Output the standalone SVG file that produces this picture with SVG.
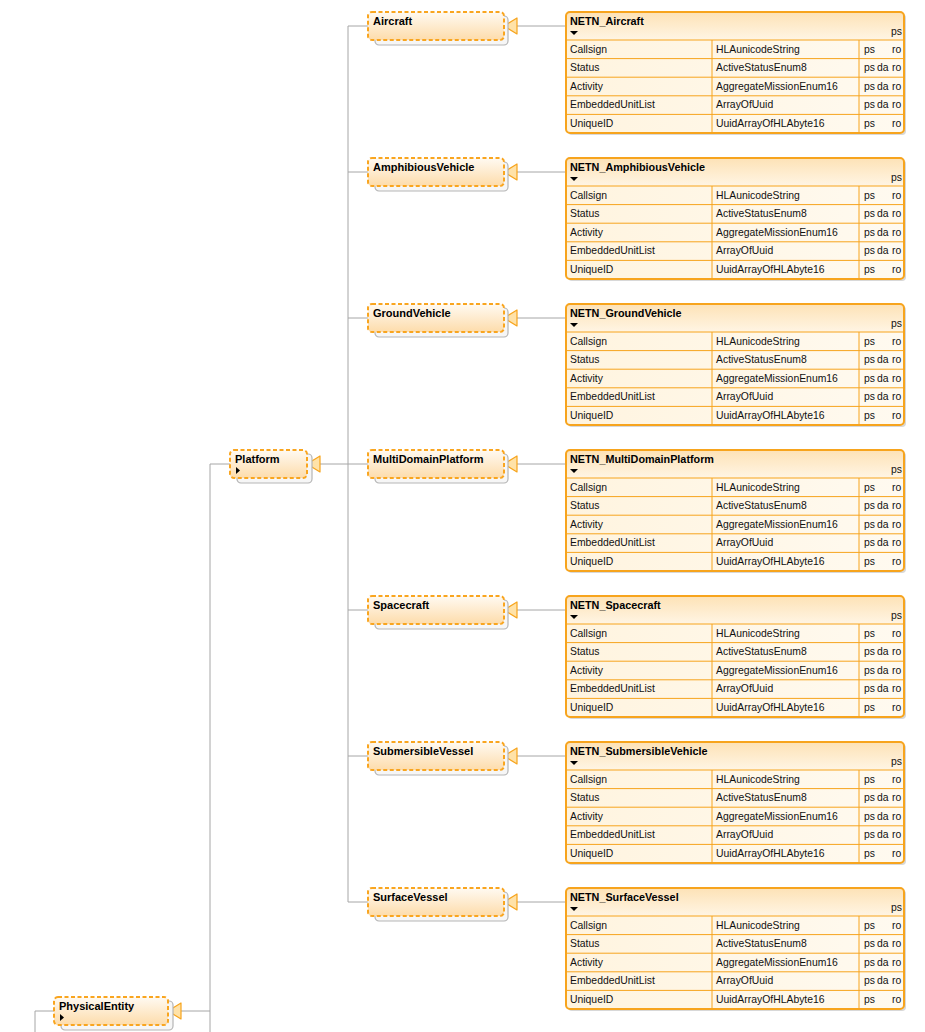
<svg xmlns="http://www.w3.org/2000/svg" xmlns:xlink="http://www.w3.org/1999/xlink" width="925" height="1032" viewBox="0 0 925 1032">
<defs>
<linearGradient id="gNode" x1="0" y1="0" x2="0" y2="1"><stop offset="0" stop-color="#fffaf2"/><stop offset="1" stop-color="#fddcab"/></linearGradient>
<linearGradient id="gHead" x1="0" y1="0" x2="0" y2="1"><stop offset="0" stop-color="#fde2b6"/><stop offset="1" stop-color="#fff5e4"/></linearGradient>
<linearGradient id="gRow" x1="0" y1="0" x2="1" y2="0"><stop offset="0" stop-color="#fff4df"/><stop offset="1" stop-color="#fffaf0"/></linearGradient>
<marker id="gen" markerUnits="userSpaceOnUse" viewBox="-1 -1 15 18" markerWidth="15" markerHeight="18" refX="13" refY="8" orient="auto"><path d="M0,0 L13,8 L0,16 Z" fill="#ffe2a8" stroke="#f7a41d" stroke-width="1.2" stroke-linejoin="round"/></marker>
<style>
.con{fill:none;stroke:#a6a6a6;stroke-width:1}
.shadow{fill:#f6f6f6;stroke:#b5b5b5;stroke-width:1.2}
.node{fill:url(#gNode);stroke:#f9a51f;stroke-width:2;stroke-dasharray:4 2.5}
.lbl{font-family:"Liberation Sans",Arial,sans-serif;font-weight:bold;font-size:11px;fill:#000}
.boxsh{fill:#d8d8d8}
.box{fill:url(#gRow)}
.head{fill:url(#gHead)}
.frame{fill:none;stroke:#f7a41d;stroke-width:2}
.grid{stroke:#f7a41d;stroke-width:1;fill:none}
.ttl{font-family:"Liberation Sans",Arial,sans-serif;font-weight:bold;font-size:10.8px;fill:#000}
.t{font-family:"Liberation Sans",Arial,sans-serif;font-size:10.4px;fill:#111}
.blk{fill:#000}
</style>
<g id="tbl">
<rect class="boxsh" x="2" y="2" width="338" height="121" rx="4"/>
<rect class="box" x="0" y="0" width="338" height="121" rx="4"/>
<path class="head" d="M0,28 V4 Q0,0 4,0 H334 Q338,0 338,4 V28 Z"/>
<path class="grid" d="M0,28 H338 M0,46.6 H338 M0,65.2 H338 M0,83.8 H338 M0,102.4 H338 M146,28 V121 M293,28 V121"/>
<rect class="frame" x="0" y="0" width="338" height="121" rx="4"/>
<polygon class="blk" points="4,19 12,19 8,23"/>
<text class="t" x="325" y="23">ps</text>
<text class="t" x="4" y="40.5">Callsign</text><text class="t" x="150" y="40.5">HLAunicodeString</text><text class="t" x="298" y="40.5">ps</text><text class="t" x="326" y="40.5">ro</text>
<text class="t" x="4" y="59.1">Status</text><text class="t" x="150" y="59.1">ActiveStatusEnum8</text><text class="t" x="298" y="59.1">ps</text><text class="t" x="311" y="59.1">da</text><text class="t" x="326" y="59.1">ro</text>
<text class="t" x="4" y="77.7">Activity</text><text class="t" x="150" y="77.7">AggregateMissionEnum16</text><text class="t" x="298" y="77.7">ps</text><text class="t" x="311" y="77.7">da</text><text class="t" x="326" y="77.7">ro</text>
<text class="t" x="4" y="96.3">EmbeddedUnitList</text><text class="t" x="150" y="96.3">ArrayOfUuid</text><text class="t" x="298" y="96.3">ps</text><text class="t" x="311" y="96.3">da</text><text class="t" x="326" y="96.3">ro</text>
<text class="t" x="4" y="114.9">UniqueID</text><text class="t" x="150" y="114.9">UuidArrayOfHLAbyte16</text><text class="t" x="298" y="114.9">ps</text><text class="t" x="326" y="114.9">ro</text>
</g>
</defs>

<g id="connectors">
<path class="con" d="M348,26 V902"/>
<path class="con" d="M368,26 H348 M368,172 H348 M368,318 H348 M368,464 H348 M368,610 H348 M368,756 H348 M368,902 H348"/>
<path class="con" d="M566,26 H504" marker-end="url(#gen)"/>
<path class="con" d="M566,172 H504" marker-end="url(#gen)"/>
<path class="con" d="M566,318 H504" marker-end="url(#gen)"/>
<path class="con" d="M566,464 H504" marker-end="url(#gen)"/>
<path class="con" d="M566,610 H504" marker-end="url(#gen)"/>
<path class="con" d="M566,756 H504" marker-end="url(#gen)"/>
<path class="con" d="M566,902 H504" marker-end="url(#gen)"/>
<path class="con" d="M348,464 H307" marker-end="url(#gen)"/>
<path class="con" d="M230,464 H210 V1032"/>
<path class="con" d="M210,1011 H168" marker-end="url(#gen)"/>
<path class="con" d="M54,1011 H35 V1032"/>
</g>

<g id="PhysicalEntity" transform="translate(54,997)">
<rect class="shadow" x="7" y="4" width="112" height="29" rx="4"/>
<rect class="node" x="0" y="0" width="114" height="28" rx="4"/>
<text class="lbl" x="5" y="12.5">PhysicalEntity</text>
<polygon class="blk" points="6,17 10,20.5 6,24"/>
</g>

<g id="Platform" transform="translate(230,450)">
<rect class="shadow" x="7" y="4" width="75" height="29" rx="4"/>
<rect class="node" x="0" y="0" width="77" height="28" rx="4"/>
<text class="lbl" x="5" y="12.5">Platform</text>
<polygon class="blk" points="6,17 10,20.5 6,24"/>
</g>

<g id="Aircraft" transform="translate(368,12)">
<rect class="shadow" x="7" y="4" width="133" height="29" rx="4"/>
<rect class="node" x="0" y="0" width="136" height="28" rx="4"/>
<text class="lbl" x="5" y="12.5">Aircraft</text>
</g>
<g id="AmphibiousVehicle" transform="translate(368,158)">
<rect class="shadow" x="7" y="4" width="133" height="29" rx="4"/>
<rect class="node" x="0" y="0" width="136" height="28" rx="4"/>
<text class="lbl" x="5" y="12.5">AmphibiousVehicle</text>
</g>
<g id="GroundVehicle" transform="translate(368,304)">
<rect class="shadow" x="7" y="4" width="133" height="29" rx="4"/>
<rect class="node" x="0" y="0" width="136" height="28" rx="4"/>
<text class="lbl" x="5" y="12.5">GroundVehicle</text>
</g>
<g id="MultiDomainPlatform" transform="translate(368,450)">
<rect class="shadow" x="7" y="4" width="133" height="29" rx="4"/>
<rect class="node" x="0" y="0" width="136" height="28" rx="4"/>
<text class="lbl" x="5" y="12.5">MultiDomainPlatform</text>
</g>
<g id="Spacecraft" transform="translate(368,596)">
<rect class="shadow" x="7" y="4" width="133" height="29" rx="4"/>
<rect class="node" x="0" y="0" width="136" height="28" rx="4"/>
<text class="lbl" x="5" y="12.5">Spacecraft</text>
</g>
<g id="SubmersibleVessel" transform="translate(368,742)">
<rect class="shadow" x="7" y="4" width="133" height="29" rx="4"/>
<rect class="node" x="0" y="0" width="136" height="28" rx="4"/>
<text class="lbl" x="5" y="12.5">SubmersibleVessel</text>
</g>
<g id="SurfaceVessel" transform="translate(368,888)">
<rect class="shadow" x="7" y="4" width="133" height="29" rx="4"/>
<rect class="node" x="0" y="0" width="136" height="28" rx="4"/>
<text class="lbl" x="5" y="12.5">SurfaceVessel</text>
</g>

<g id="NETN_Aircraft" transform="translate(566,12)"><use xlink:href="#tbl"/><text class="ttl" x="4" y="12.5">NETN_Aircraft</text></g>
<g id="NETN_AmphibiousVehicle" transform="translate(566,158)"><use xlink:href="#tbl"/><text class="ttl" x="4" y="12.5">NETN_AmphibiousVehicle</text></g>
<g id="NETN_GroundVehicle" transform="translate(566,304)"><use xlink:href="#tbl"/><text class="ttl" x="4" y="12.5">NETN_GroundVehicle</text></g>
<g id="NETN_MultiDomainPlatform" transform="translate(566,450)"><use xlink:href="#tbl"/><text class="ttl" x="4" y="12.5">NETN_MultiDomainPlatform</text></g>
<g id="NETN_Spacecraft" transform="translate(566,596)"><use xlink:href="#tbl"/><text class="ttl" x="4" y="12.5">NETN_Spacecraft</text></g>
<g id="NETN_SubmersibleVehicle" transform="translate(566,742)"><use xlink:href="#tbl"/><text class="ttl" x="4" y="12.5">NETN_SubmersibleVehicle</text></g>
<g id="NETN_SurfaceVessel" transform="translate(566,888)"><use xlink:href="#tbl"/><text class="ttl" x="4" y="12.5">NETN_SurfaceVessel</text></g>
</svg>
